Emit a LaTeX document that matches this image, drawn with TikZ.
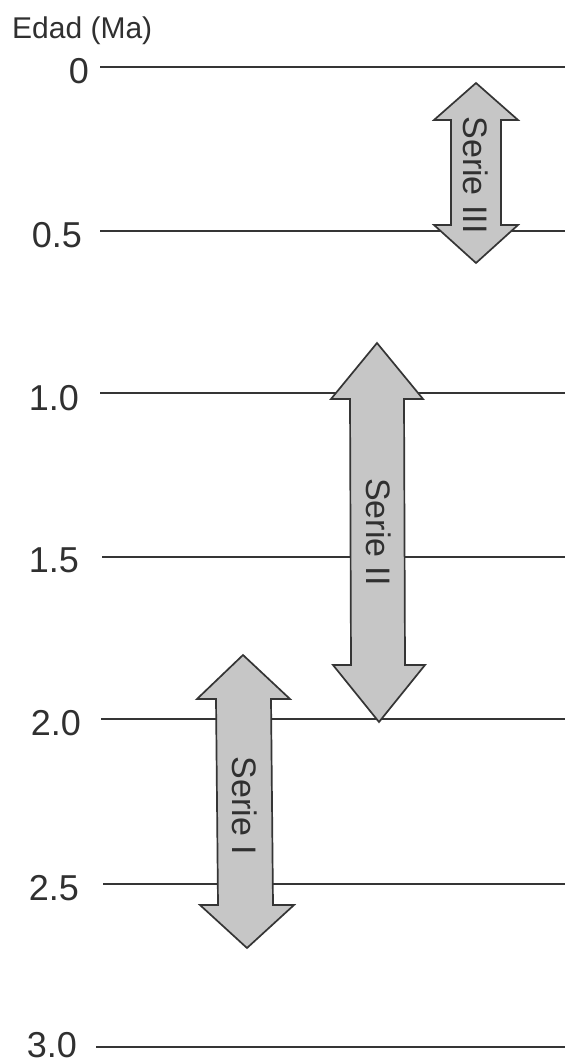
\documentclass[tikz,border=0pt]{standalone}
\usepackage{fontspec}
\setmainfont{Liberation Sans}
\definecolor{linec}{HTML}{353535}
\definecolor{txt}{HTML}{303030}
\definecolor{arrf}{HTML}{C6C6C6}
\begin{document}
\begin{tikzpicture}[x=1pt,y=-1pt,
  lvl/.style={draw=linec, line width=1.8pt},
  lab/.style={anchor=east, font=\fontsize{36}{36}\selectfont, text=txt, inner sep=0pt},
  ttl/.style={anchor=west, font=\fontsize{30}{30}\selectfont, text=txt, inner sep=0pt},
  arr/.style={draw=linec, fill=arrf, line width=1.7pt, line join=miter},
  ser/.style={rotate=-90, font=\fontsize{34}{34}\selectfont, text=txt, inner sep=0pt}]
\useasboundingbox (0,0) rectangle (565,1064);
\fill[white] (0,0) rectangle (565,1064);

% title
\node[ttl] (title) at (12,31) {Edad (Ma)};

% level lines
\coordinate (r0) at (565,67);
\coordinate (r05) at (565,231);
\coordinate (r10) at (565,393);
\coordinate (r15) at (565,557);
\coordinate (r20) at (565,719);
\coordinate (r25) at (565,884);
\coordinate (r30) at (565,1047);
\coordinate (l0) at (100,67);
\coordinate (l05) at (100,231);
\coordinate (l10) at (100,393);
\coordinate (l15) at (102,557);
\coordinate (l20) at (101,719);
\coordinate (l25) at (103,884);
\coordinate (l30) at (96,1047);
\draw[lvl] (l0) -- (r0);
\draw[lvl] (l05) -- (r05);
\draw[lvl] (l10) -- (r10);
\draw[lvl] (l15) -- (r15);
\draw[lvl] (l20) -- (r20);
\draw[lvl] (l25) -- (r25);
\draw[lvl] (l30) -- (r30);

% labels
\node[lab] (n0)  at (89,71.5) {0};
\node[lab] (n05) at (82,235) {0.5};
\node[lab] (n10) at (79,398) {1.0};
\node[lab] (n15) at (79,560) {1.5};
\node[lab] (n20) at (81,723) {2.0};
\node[lab] (n25) at (79,888) {2.5};
\node[lab] (n30) at (77,1045.5) {3.0};

% Serie III
\draw[arr] (476,83) -- (518,120) -- (501,120) -- (501,225) -- (518,225)
  -- (476,263) -- (434,225) -- (451,225) -- (451,120) -- (434,120) -- cycle;
\node[ser] (s3) at (476,175) {Serie III};

% Serie II
\draw[arr] (377,343) -- (423,399) -- (404,399) -- (405,665) -- (425,665)
  -- (379,722) -- (333,665) -- (351,665) -- (350,399) -- (331,399) -- cycle;
\node[ser] (s2) at (379,532) {Serie II};

% Serie I
\draw[arr] (243,655) -- (290,699) -- (271,699) -- (273,905) -- (294,905)
  -- (247,948) -- (200,905) -- (218,905) -- (216,699) -- (197,699) -- cycle;
\node[ser] (s1) at (245,806) {Serie I};
\end{tikzpicture}
\end{document}
